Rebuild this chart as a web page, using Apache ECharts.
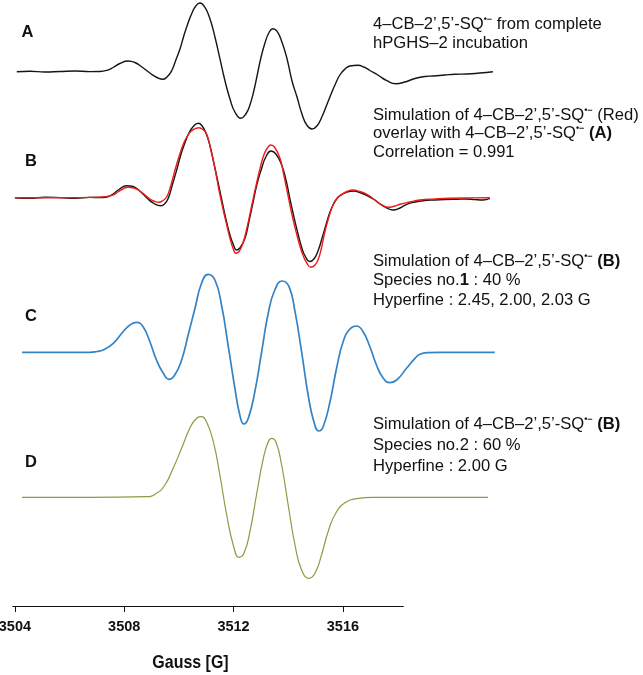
<!DOCTYPE html>
<html>
<head>
<meta charset="utf-8">
<script src="https://cdn.jsdelivr.net/npm/echarts@6/dist/echarts.min.js"></script>
<style>html,body{margin:0;padding:0;background:#fff;}#chart{width:643px;height:675px;}</style>
</head>
<body>
<div id="chart"></div>
<script>
// Field axis tick labels (Gauss)
const fieldTicks = [3504, 3508, 3512, 3516];
const axisTitle = 'Gauss [G]';
const panelLetters = ['A', 'B', 'C', 'D'];

// Spectrum A: experimental 4-CB-2',5'-SQ from hPGHS-2 incubation [field G, intensity a.u.]
const specA = [[3504.07,0],[3504.55,0.5],[3505.10,-0.3],[3505.65,0.2],[3506.20,0.7],[3506.74,0.1],[3507.11,0.2],[3507.37,1.4],[3507.59,4.2],[3507.84,8.2],[3508.14,10.7],[3508.39,9.2],[3508.65,4.7],[3508.94,-1.3],[3509.20,-5.8],[3509.42,-7.6],[3509.60,-4.3],[3509.75,1.7],[3509.89,11.7],[3510.04,22.7],[3510.18,35.7],[3510.33,48.2],[3510.48,58.7],[3510.62,65.7],[3510.77,68.7],[3510.95,64.5],[3511.14,52.7],[3511.32,34.7],[3511.50,13.3],[3511.68,-8.3],[3511.87,-27.3],[3512.05,-40.3],[3512.27,-46.6],[3512.45,-42.3],[3512.60,-33.3],[3512.75,-18.3],[3512.86,-4.3],[3513.00,13.7],[3513.15,28.7],[3513.29,38.7],[3513.44,43.0],[3513.59,40.5],[3513.77,29.7],[3513.95,13.7],[3514.14,-9.3],[3514.32,-25.1],[3514.50,-42.0],[3514.68,-53.3],[3514.87,-57.3],[3515.05,-54.3],[3515.23,-45.3],[3515.38,-35.3],[3515.53,-25.0],[3515.71,-13.3],[3515.89,-3.3],[3516.08,2.7],[3516.26,5.7],[3516.55,6.4],[3516.77,4.7],[3516.99,1.2],[3517.28,-3.3],[3517.61,-9.0],[3517.94,-12.0],[3518.27,-10.3],[3518.64,-6.8],[3519.00,-4.8],[3519.30,-4.3],[3519.73,-3.3],[3520.10,-2.5],[3520.54,-2.3],[3521.01,-1.3],[3521.49,0]];

// Spectrum B: experimental (black) and simulation (red)
const specBexp = [[3504.00,0],[3504.55,-0.5],[3505.10,0.5],[3505.65,0.1],[3506.20,-0.6],[3506.74,0.3],[3507.11,0.2],[3507.37,0.7],[3507.59,3.7],[3507.81,8.2],[3508.09,12.0],[3508.32,11.2],[3508.57,6.7],[3508.83,-0.3],[3509.09,-5.8],[3509.34,-8.0],[3509.49,-5.8],[3509.61,-0.6],[3509.75,11.7],[3509.92,27.7],[3510.07,42.7],[3510.22,54.7],[3510.37,64.7],[3510.52,71.0],[3510.71,74.4],[3510.84,72.2],[3510.99,64.7],[3511.14,51.7],[3511.28,34.7],[3511.43,15.7],[3511.57,-2.3],[3511.72,-21.3],[3511.87,-37.3],[3512.00,-47.3],[3512.11,-52.3],[3512.23,-50.3],[3512.42,-40.6],[3512.56,-24.3],[3512.72,-4.0],[3512.86,13.7],[3513.03,29.4],[3513.18,40.7],[3513.37,46.7],[3513.55,43.7],[3513.76,32.7],[3513.92,17.7],[3514.06,-0.6],[3514.21,-19.3],[3514.37,-37.3],[3514.50,-50.3],[3514.61,-57.8],[3514.79,-63.8],[3514.94,-61.3],[3515.09,-53.3],[3515.23,-41.3],[3515.38,-27.3],[3515.53,-14.3],[3515.67,-5.8],[3515.82,0.2],[3515.97,3.4],[3516.18,5.9],[3516.40,6.7],[3516.62,5.2],[3516.88,2.2],[3517.14,-1.8],[3517.36,-6.3],[3517.58,-9.8],[3517.83,-12.3],[3518.09,-10.3],[3518.34,-6.6],[3518.64,-4.3],[3519.00,-2.8],[3519.30,-2.3],[3519.73,-1.8],[3520.17,-1.5],[3520.54,-1.3],[3520.83,-1.9],[3521.12,-2.3],[3521.38,-0.6]];
const specBsim = [[3504.00,0],[3505.65,0],[3507.22,0.7],[3507.40,1.5],[3507.59,2.7],[3507.77,5.7],[3507.95,8.7],[3508.14,10.4],[3508.35,9.7],[3508.57,6.7],[3508.76,2.7],[3508.94,-1.3],[3509.12,-3.8],[3509.27,-4.6],[3509.42,-2.8],[3509.56,1.0],[3509.71,12.7],[3509.85,26.7],[3510.00,40.7],[3510.15,52.7],[3510.29,60.7],[3510.48,67.2],[3510.73,70.0],[3510.88,68.2],[3511.03,62.7],[3511.17,47.7],[3511.32,29.4],[3511.46,8.7],[3511.61,-10.6],[3511.76,-28.3],[3511.87,-40.6],[3511.98,-50.3],[3512.09,-55.6],[3512.20,-53.8],[3512.34,-45.6],[3512.49,-30.3],[3512.67,-7.3],[3512.82,11.7],[3512.97,29.4],[3513.11,42.7],[3513.24,49.7],[3513.37,52.7],[3513.51,50.2],[3513.70,39.4],[3513.84,22.7],[3513.99,2.7],[3514.15,-18.3],[3514.32,-37.3],[3514.43,-48.3],[3514.54,-57.3],[3514.68,-65.3],[3514.83,-69.6],[3514.98,-67.3],[3515.09,-62.3],[3515.20,-52.3],[3515.34,-34.3],[3515.49,-19.3],[3515.64,-7.3],[3515.78,-0.8],[3515.97,3.4],[3516.15,6.2],[3516.37,7.7],[3516.62,6.2],[3516.88,3.4],[3517.10,-0.8],[3517.28,-4.6],[3517.47,-7.8],[3517.65,-9.6],[3517.87,-8.6],[3518.09,-6.6],[3518.45,-4.3],[3518.82,-2.3],[3519.37,-1.3],[3519.92,-0.6],[3520.65,-0.2],[3521.38,0]];

// Spectrum C: simulation, species no.1
const specC = [[3504.26,0],[3505.65,0],[3506.74,0],[3507.00,0.8],[3507.23,2.3],[3507.60,9.0],[3507.96,20.6],[3508.21,27.3],[3508.45,30.0],[3508.69,25.6],[3508.94,10.6],[3509.18,-7.7],[3509.43,-21.0],[3509.64,-27.0],[3509.85,-22.7],[3510.10,-7.7],[3510.34,17.3],[3510.59,44.0],[3510.83,69.0],[3511.07,78.0],[3511.32,72.3],[3511.56,47.3],[3511.80,7.3],[3512.05,-36.0],[3512.23,-62.7],[3512.38,-71.7],[3512.54,-66.0],[3512.78,-39.4],[3513.03,0.6],[3513.27,39.0],[3513.51,62.3],[3513.78,71.3],[3514.03,65.6],[3514.25,40.6],[3514.49,0.6],[3514.73,-42.7],[3514.94,-69.4],[3515.12,-78.7],[3515.28,-74.4],[3515.53,-49.4],[3515.77,-16.0],[3516.01,10.6],[3516.26,23.3],[3516.50,26.3],[3516.74,20.6],[3516.99,5.6],[3517.23,-12.7],[3517.48,-26.0],[3517.72,-30.4],[3517.97,-27.7],[3518.33,-16.0],[3518.64,-6.0],[3518.82,-2.0],[3519.11,-0.3],[3519.55,0],[3521.56,0]];

// Spectrum D: simulation, species no.2
const specD = [[3504.26,0],[3506.74,0],[3508.82,0.6],[3509.18,4.0],[3509.49,12.3],[3509.79,29.0],[3510.10,49.0],[3510.40,69.0],[3510.62,78.3],[3510.81,80.6],[3511.01,75.6],[3511.26,55.6],[3511.50,22.3],[3511.75,-17.7],[3511.99,-47.7],[3512.20,-60.0],[3512.38,-56.0],[3512.60,-34.4],[3512.84,2.3],[3513.09,39.0],[3513.27,55.6],[3513.39,59.0],[3513.55,55.6],[3513.76,32.3],[3514.00,-7.7],[3514.25,-47.7],[3514.49,-72.7],[3514.76,-81.0],[3514.98,-76.0],[3515.22,-57.7],[3515.46,-34.4],[3515.77,-14.4],[3516.14,-4.4],[3516.50,-1.4],[3517.11,0],[3521.31,0]];

// Annotation texts (rich-text markup: {s|..} radical mark, {b|..} bold)
const SQ = '4–CB–2’,5’-SQ{s|•−}';
const notesA = [SQ + ' from complete', 'hPGHS–2 incubation'];
const notesB = ['Simulation of ' + SQ + ' (Red)', 'overlay with ' + SQ + ' {b|(A)}', 'Correlation = 0.991'];
const notesC = ['Simulation of ' + SQ + ' {b|(B)}', 'Species no.{b|1} : 40 %', 'Hyperfine : 2.45, 2.00, 2.03 G'];
const notesD = ['Simulation of ' + SQ + ' {b|(B)}', 'Species no.2 : 60 %', 'Hyperfine : 2.00 G'];

const FONT = '"Liberation Sans", Arial, sans-serif';
const FS = 16.6;
const rich = {
  s: { fontSize: 9, fontFamily: FONT, fontWeight: 'bold', fill: '#111', verticalAlign: 'top', lineHeight: 19 },
  b: { fontSize: FS, fontFamily: FONT, fontWeight: 'bold', fill: '#111', lineHeight: 19 }
};
function noteBlock(lines, ys) {
  return lines.map((t, i) => ({
    type: 'text', x: 373, y: ys[i], silent: true,
    style: { text: t, rich: rich, fontSize: FS, fontFamily: FONT, fill: '#111', align: 'left', verticalAlign: 'middle', lineHeight: 19 }
  }));
}
const letterPos = [[27.5, 32], [31, 161], [31, 316], [31, 462]];
const letters = panelLetters.map((l, i) => ({
  type: 'text', x: letterPos[i][0], y: letterPos[i][1], silent: true,
  style: { text: l, fontSize: 16.5, fontWeight: 'bold', fontFamily: FONT, fill: '#111', align: 'center', verticalAlign: 'middle' }
}));

const baseA = 71.7, baseB = 197.7, baseC = 352.3, baseD = 497.3;
const H = 675;
function hiddenY(grid, base) {
  return { type: 'value', gridIndex: grid, min: base - H, max: base, show: false, splitLine: { show: false } };
}
function line(data, yi, color, width) {
  return { type: 'line', data: data, xAxisIndex: 1, yAxisIndex: yi, smooth: 0.5, symbol: 'none', silent: true,
    lineStyle: { color: color, width: width }, clip: false };
}

const chart = echarts.init(document.getElementById('chart'), null, { renderer: 'canvas' });
chart.setOption({
  animation: false,
  backgroundColor: '#fff',
  grid: [
    { left: 12.7, top: 0, width: 390.6, height: 606, containLabel: false, outerBoundsMode: 'none' },
    { left: 12.7, top: 0, width: 487.3, height: H, containLabel: false, outerBoundsMode: 'none' }
  ],
  xAxis: [
    { type: 'value', gridIndex: 0, min: 3503.92, max: 3518.21,
      axisLine: { show: true, onZero: false, lineStyle: { color: '#111', width: 1 } },
      axisTick: { show: true, inside: false, length: 6, customValues: fieldTicks, lineStyle: { color: '#111', width: 1 } },
      axisLabel: { show: true, customValues: fieldTicks, margin: 13, fontSize: 14.5, fontWeight: 'bold', fontFamily: FONT, color: '#111',
        formatter: v => String(v) },
      splitLine: { show: false } },
    { type: 'value', gridIndex: 1, min: 3503.92, max: 3521.75, show: false, splitLine: { show: false } }
  ],
  yAxis: [
    { type: 'value', gridIndex: 0, show: false, min: 0, max: 1, splitLine: { show: false } },
    hiddenY(1, baseA), hiddenY(1, baseB), hiddenY(1, baseC), hiddenY(1, baseD)
  ],
  series: [
    line(specA, 1, '#151515', 1.4),
    line(specBexp, 2, '#151515', 1.4),
    line(specBsim, 2, '#f01a1a', 1.4),
    line(specC, 3, '#3384c6', 1.7),
    line(specD, 4, '#8a9c44', 1.2)
  ],
  graphic: [].concat(
    letters,
    noteBlock(notesA, [24.2, 43]),
    noteBlock(notesB, [115.3, 133.8, 152.2]),
    noteBlock(notesC, [261.4, 280.8, 300.2]),
    noteBlock(notesD, [424.2, 445.2, 466.8]),
    [{ type: 'text', x: 190.5, y: 662.5, scaleX: 0.84, silent: true,
       style: { text: axisTitle, fontSize: 19, fontWeight: 'bold', fontFamily: FONT, fill: '#111', align: 'center', verticalAlign: 'middle' } }]
  )
});
</script>
</body>
</html>
